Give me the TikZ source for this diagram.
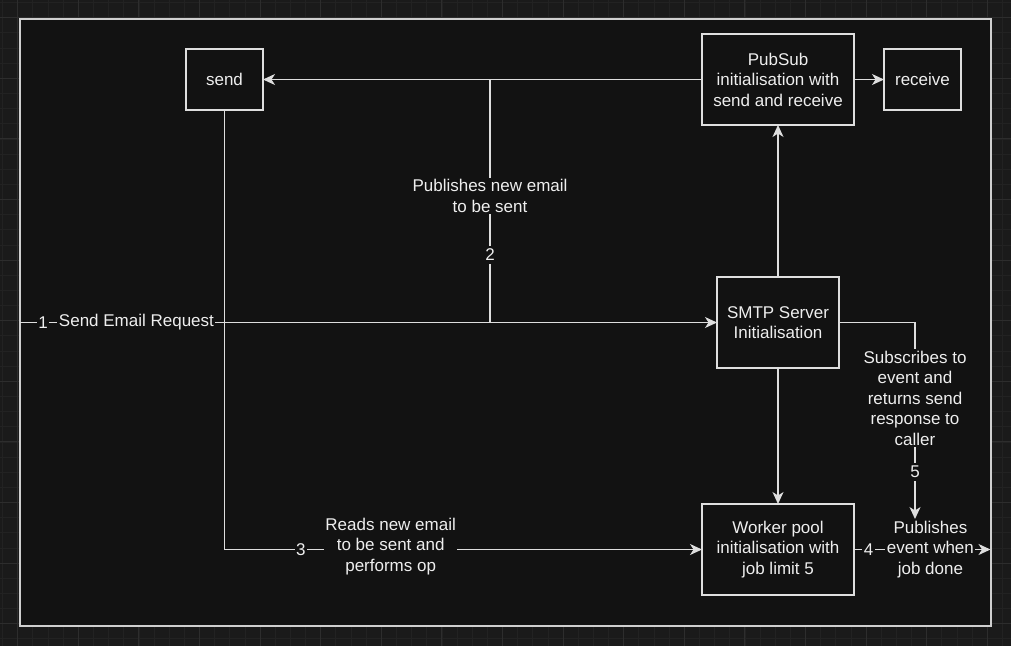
\documentclass[tikz,border=0pt]{standalone}
\usepackage{fontspec}
\setmainfont{Liberation Sans}
\usetikzlibrary{arrows.meta}
\definecolor{bgout}{HTML}{1A1A1A}
\definecolor{gridminor}{HTML}{222222}
\definecolor{gridmajor}{HTML}{2D2D2D}
\definecolor{framefill}{HTML}{121212}
\definecolor{framedraw}{HTML}{CFCFCF}
\definecolor{linec}{HTML}{DEDEDE}
\definecolor{textc}{HTML}{EEEEEE}
\newcommand{\dfont}{\fontsize{17}{20.5}\selectfont}
\tikzset{
  frame/.style={draw=framedraw, line width=2pt, fill=framefill, outer sep=0pt, inner sep=0pt},
  box/.style={draw=linec, line width=1.5pt, fill=framefill, text=textc, align=center, font=\dfont, inner sep=0pt, outer sep=0pt},
  conn/.style={draw=linec, line width=1.5pt},
  arr/.style={conn, -{Stealth[length=12pt,width=11pt,inset=3.5pt]}},
  lbl/.style={fill=framefill, text=textc, align=center, font=\dfont, inner sep=1.5pt},
}
\begin{document}
\begin{tikzpicture}[x=1pt,y=-1pt]
\useasboundingbox (0,0) rectangle (1011,646);
\fill[bgout] (0,0) rectangle (1011,646);
% grid
\foreach \i in {0,...,66} { \draw[gridminor, line width=0.8pt] ({2.55+15.15*\i},0) -- ++(0,646); }
\foreach \i in {0,...,42} { \draw[gridminor, line width=0.8pt] (0,{2.55+15.15*\i}) -- ++(1011,0); }
\foreach \k in {0,...,16} { \draw[gridmajor, line width=1pt] ({17.7+60.6*\k},0) -- ++(0,646); }
\foreach \k in {0,...,10} { \draw[gridmajor, line width=1pt] (0,{17.7+60.6*\k}) -- ++(1011,0); }
% frame
\node[frame, minimum width=971pt, minimum height=607pt] (frame) at (505,322) {};
% boxes
\node[box, minimum width=77pt, minimum height=61pt] (send) at (224.5,79.5) {send};
\node[box, minimum width=152pt, minimum height=91pt] (pubsub) at (778,79.5) {PubSub\\initialisation with\\send and receive};
\node[box, minimum width=77pt, minimum height=61pt] (receive) at (922.5,79.5) {receive};
\node[box, minimum width=122pt, minimum height=91pt] (smtp) at (778,322.5) {SMTP Server\\Initialisation};
\node[box, minimum width=152pt, minimum height=91pt] (worker) at (778,549.5) {Worker pool\\initialisation with\\job limit 5};
% helper coordinates
\coordinate (in1) at (frame.west |- smtp.west);
\coordinate (x2) at (490,0);
\coordinate (j2) at (smtp.west -| x2);
\coordinate (out4) at (frame.east |- worker.east);
\coordinate (end5) at (915,519);
% connectors
\draw[arr] (in1) -- node[lbl, pos=0.0337] {1} node[lbl, pos=0.1677] {Send Email Request} (smtp.west);
\draw[conn] (pubsub.west) -- (j2 |- pubsub.west);
\draw[arr] (j2) -- node[lbl, pos=0.52] {Publishes new email\\to be sent} node[lbl, pos=0.278, inner ysep=3pt] {2} (j2 |- send.east) -- (send.east);
\draw[arr] (pubsub.east) -- (receive.west);
\draw[arr] (smtp.north) -- (pubsub.south);
\draw[arr] (smtp.south) -- (worker.north);
\draw[arr] (send.south) |- node[lbl, pos=0.580] {3} node[lbl, pos=0.674, yshift=3pt] {Reads new email\\to be sent and\\performs op} (worker.west);
\draw[arr] (worker.east) -- node[lbl, pos=0.106] {4} node[lbl, pos=0.56] {Publishes\\event when\\job done} (out4);
\draw[arr] (smtp.east) -| node[lbl, pos=0.692] {Subscribes to\\event and\\returns send\\response to\\caller} node[lbl, pos=0.880, inner ysep=3pt] {5} (end5);
% redraw boxes over line ends
\end{tikzpicture}
\end{document}
